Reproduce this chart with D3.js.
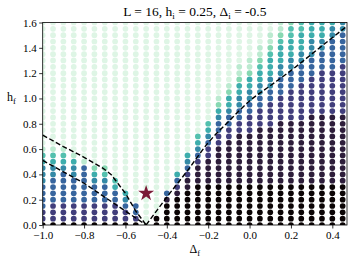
<!DOCTYPE html>
<html>
<head>
<meta charset="utf-8">
<script src="https://cdn.jsdelivr.net/npm/d3@7.9.0/dist/d3.min.js"></script>
<style>
  body { margin: 0; background: #fff; }
  svg text { font-family: "Liberation Serif", "DejaVu Serif", serif; fill: #000; }
  .axis path, .axis line { stroke: #000; stroke-width: 0.8; }
</style>
</head>
<body>
<svg id="chart" width="350" height="264"></svg>
<script>
// grid of (Delta_f, h_f) points
const deltaF = [-1.0, -0.95, -0.9, -0.85, -0.8, -0.75, -0.7, -0.65, -0.6, -0.55,
                -0.5, -0.45, -0.4, -0.35, -0.3, -0.25, -0.2, -0.15, -0.1, -0.05,
                0.0, 0.05, 0.1, 0.15, 0.2, 0.25, 0.3, 0.35, 0.4, 0.45];
const hF = [1.6, 1.55, 1.5, 1.45, 1.4, 1.35, 1.3, 1.25, 1.2, 1.15, 1.1, 1.05,
            1.0, 0.95, 0.9, 0.85, 0.8, 0.75, 0.7, 0.65, 0.6, 0.55, 0.5, 0.45,
            0.4, 0.35, 0.3, 0.25, 0.2, 0.15, 0.1, 0.05, 0.0];

// value level for each dot (one string per h_f row, top row first)
const levelValues = [0, 0.06, 0.15, 0.25, 0.32, 0.45, 0.57, 0.71, 0.86, 1.0];
const gridRows = [
  "000000000000000000000001234445",
  "000000000000000000000001334455",
  "000000000000000000000012344456",
  "000000000000000000000013445566",
  "000000000000000000000124445566",
  "000000000000000000000134455666",
  "000000000000000000001244556666",
  "000000000000000000011345566667",
  "000000000000000000012445666777",
  "000000000000000000024456667777",
  "000000000000000000144556677777",
  "000000000000000000245566777777",
  "000000000000000001455667777777",
  "000000000000000002456677777777",
  "000000000000000004566777777777",
  "000000000000000005667777778888",
  "000000000000000036677778888888",
  "000000000000000046777888888888",
  "000000000000000357788888888888",
  "000000000000000467888888888888",
  "111000000000000578888888888888",
  "333100000000004678888888888888",
  "444410000000005788888888888888",
  "555562200000006888888888888888",
  "556564300000047888888888888888",
  "566665530000068888888888888888",
  "666666640000078999999999999999",
  "666666664000689999999999999999",
  "666666665000899999999999999999",
  "677777776600999999999999999999",
  "777777777600999999999999999999",
  "777777777709999999999999999999",
  "999999999909999999999999999999"
];

// dashed boundary lines
const upperLeftX = [-1.0, -0.9, -0.8, -0.71, -0.67, -0.6, -0.55, -0.5];
const upperLeftY = [0.71, 0.62, 0.535, 0.45, 0.40, 0.25, 0.11, 0.0];
const lowerLeftX = [-1.0, -0.8, -0.6, -0.5];
const lowerLeftY = [0.51, 0.33, 0.11, 0.0];
const rightX = [-0.5, -0.4, -0.3, -0.2, -0.1, 0.0, 0.1, 0.2, 0.3, 0.4, 0.47];
const rightY = [0.0, 0.22, 0.43, 0.65, 0.82, 0.98, 1.10, 1.22, 1.35, 1.48, 1.57];

const starPoint = [-0.5, 0.25];

const xTicks = [-1.0, -0.8, -0.6, -0.4, -0.2, 0.0, 0.2, 0.4];
const yTicks = [0.0, 0.2, 0.4, 0.6, 0.8, 1.0, 1.2, 1.4, 1.6];

// mako colormap stops
const makoStops = ["#0b0405", "#2e1e3b", "#413d7b", "#37659e", "#348fa7", "#40b7ad", "#8bdab2", "#def5e5"];
const mako = d3.scaleLinear()
  .domain(d3.range(makoStops.length).map(i => i / (makoStops.length - 1)))
  .range(makoStops)
  .interpolate(d3.interpolateRgb);
const color = v => mako(1 - v);

const margin = { left: 42.7, right: 3, top: 22.5, bottom: 39 };
const W = 350, H = 264;
const svg = d3.select('#chart');

const x = d3.scaleLinear().domain([-1.0, 0.471]).range([margin.left, W - margin.right]);
const y = d3.scaleLinear().domain([0, 1.6]).range([H - margin.bottom, margin.top]);

svg.append('clipPath').attr('id', 'plot-clip')
  .append('rect')
  .attr('x', x(-1.0)).attr('y', y(1.6))
  .attr('width', x(0.471) - x(-1.0)).attr('height', y(0) - y(1.6));

let points = [];
gridRows.forEach((row, r) => {
  row.split('').forEach((ch, c) => {
    points.push({ dx: deltaF[c], h: hF[r], v: levelValues[+ch] });
  });
});

const plot = svg.append('g').attr('clip-path', 'url(#plot-clip)');
plot.selectAll('circle')
  .data(points)
  .join('circle')
  .attr('cx', d => x(d.dx))
  .attr('cy', d => y(d.h))
  .attr('r', 2.85)
  .attr('fill', d => color(d.v));

const line = d3.line().x(d => x(d[0])).y(d => y(d[1]));
const lines = [
  [d3.zip(upperLeftX, upperLeftY), d3.curveLinear],
  [d3.zip(lowerLeftX, lowerLeftY), d3.curveLinear],
  [d3.zip(rightX, rightY), d3.curveMonotoneX]
];
lines.forEach(([pts, curve]) => {
  plot.append('path')
    .attr('d', line.curve(curve)(pts))
    .attr('fill', 'none')
    .attr('stroke', '#000')
    .attr('stroke-width', 1.4)
    .attr('stroke-dasharray', '5,2.5');
});

svg.append('path')
  .attr('d', d3.symbol(d3.symbolStar, 80)())
  .attr('transform', `translate(${x(starPoint[0])},${y(starPoint[1])})`)
  .attr('fill', '#7a1a36');

// axes
const fmt = d3.format('.1f');
svg.append('g').attr('class', 'axis')
  .attr('transform', `translate(0,${y(0)})`)
  .call(d3.axisBottom(x).tickValues(xTicks).tickFormat(fmt).tickSize(3.5).tickPadding(2.5))
  .call(g => g.select('.domain').remove())
  .selectAll('text').attr('font-size', 11).attr('font-family', '"Liberation Serif", serif');
svg.append('g').attr('class', 'axis')
  .attr('transform', `translate(${x(-1.0)},0)`)
  .call(d3.axisLeft(y).tickValues(yTicks).tickFormat(fmt).tickSize(3.5).tickPadding(2.5))
  .call(g => g.select('.domain').remove())
  .selectAll('text').attr('font-size', 11).attr('font-family', '"Liberation Serif", serif');

// frame
svg.append('rect')
  .attr('x', x(-1.0)).attr('y', y(1.6))
  .attr('width', x(0.471) - x(-1.0)).attr('height', y(0) - y(1.6))
  .attr('fill', 'none').attr('stroke', '#000').attr('stroke-width', 0.8);

// title
const title = svg.append('text')
  .attr('x', (x(-1.0) + x(0.471)) / 2).attr('y', 16)
  .attr('text-anchor', 'middle').attr('font-size', 13.5);
title.append('tspan').text('L = 16, h');
title.append('tspan').attr('font-size', 9).attr('dy', 3).text('i');
title.append('tspan').attr('dy', -3).text(' = 0.25, Δ');
title.append('tspan').attr('font-size', 9).attr('dy', 3).text('i');
title.append('tspan').attr('dy', -3).text(' = -0.5');

// axis labels
const xl = svg.append('text')
  .attr('x', (x(-1.0) + x(0.471)) / 2).attr('y', 253)
  .attr('text-anchor', 'middle').attr('font-size', 12);
xl.append('tspan').text('Δ');
xl.append('tspan').attr('font-size', 8.5).attr('dy', 3).text('f');

const yl = svg.append('text')
  .attr('x', 7).attr('y', 101).attr('font-size', 12);
yl.append('tspan').text('h');
yl.append('tspan').attr('font-size', 8.5).attr('dy', 3).text('f');
</script>
</body>
</html>
